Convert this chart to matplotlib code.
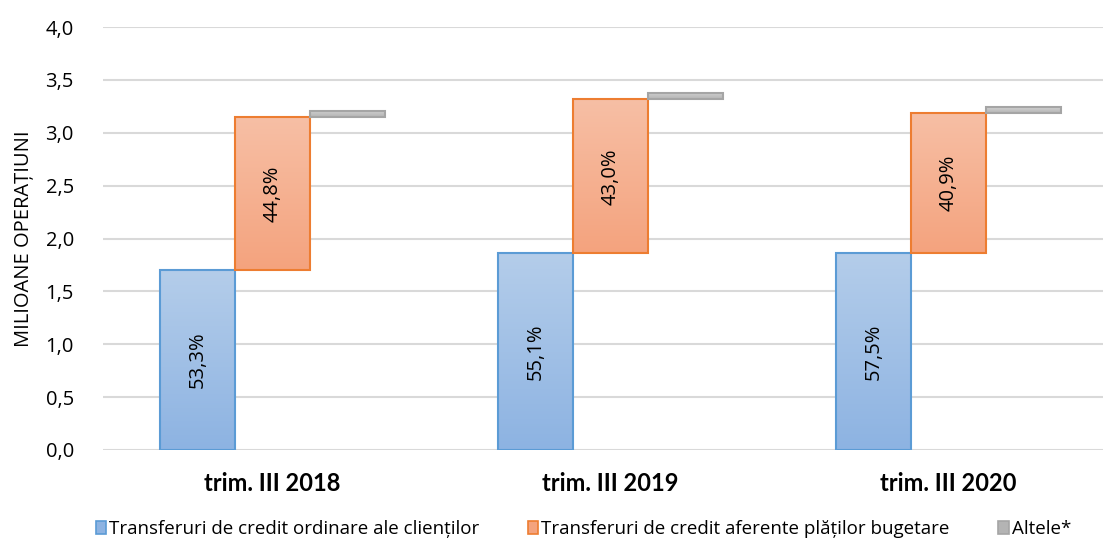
import matplotlib
matplotlib.use("Agg")
import matplotlib.pyplot as plt
import numpy as np
from matplotlib.patches import Rectangle, Patch
from matplotlib.colors import LinearSegmentedColormap

categories = ["trim. III 2018", "trim. III 2019", "trim. III 2020"]
ordinare = [1.70, 1.86, 1.86]
bugetare = [1.445, 1.455, 1.33]
altele = [0.06, 0.062, 0.055]
pct_ordinare = ["53,3%", "55,1%", "57,5%"]
pct_bugetare = ["44,8%", "43,0%", "40,9%"]
legend_labels = ["Transferuri de credit ordinare ale clienților",
                 "Transferuri de credit aferente plăților bugetare",
                 "Altele*"]
yticks = [0, 0.5, 1.0, 1.5, 2.0, 2.5, 3.0, 3.5, 4.0]

plt.rcParams['font.family'] = ['Open Sans', 'DejaVu Sans']

fig = plt.figure(figsize=(11.03, 5.42), dpi=100)
ax = fig.add_axes([103/1103, 92/542, 1000/1103, 423/542])

x = np.arange(len(categories))
w = 75/338

styles = {
    'blue': dict(edge='#5b9bd5', top='#b4cdea', bot='#8db3e2'),
    'orange': dict(edge='#ed7d31', top='#f7bfa5', bot='#f4a37e'),
    'gray': dict(edge='#a5a5a5', top='#d2d2d2', bot='#b4b4b4'),
}

def grad_bar(xc, bottom, height, st):
    rect = Rectangle((xc - w/2, bottom), w, height, facecolor='none',
                     edgecolor=st['edge'], linewidth=1.5, zorder=4)
    ax.add_patch(rect)
    cmap = LinearSegmentedColormap.from_list('g', [st['bot'], st['top']])
    grad = np.linspace(0, 1, 100).reshape(-1, 1)
    im = ax.imshow(grad, cmap=cmap, origin='lower', aspect='auto',
                   extent=(xc - w/2, xc + w/2, bottom, bottom + height), zorder=3)
    clip = Rectangle((xc - w/2, bottom), w, height, transform=ax.transData)
    im.set_clip_path(clip)

for i in range(len(categories)):
    grad_bar(x[i] - w, 0, ordinare[i], styles['blue'])
    grad_bar(x[i], ordinare[i], bugetare[i], styles['orange'])
    grad_bar(x[i] + w, ordinare[i] + bugetare[i], altele[i], styles['gray'])
    ax.text(x[i] - w, ordinare[i]/2, pct_ordinare[i], rotation=90,
            ha='center', va='center', fontsize=14.5, color='black', zorder=5)
    ax.text(x[i], ordinare[i] + bugetare[i]/2, pct_bugetare[i], rotation=90,
            ha='center', va='center', fontsize=14.5, color='black', zorder=5)

ax.set_xlim((103-272.5)/338, (1103-272.5)/338)
ax.set_ylim(0, 4.0)
ax.set_yticks(yticks)
ax.set_yticklabels([f"{v:.1f}".replace('.', ',') for v in yticks], fontsize=14.5)
ax.set_xticks(x)
ax.set_xticklabels(categories, fontsize=17, fontweight='bold', family=['Lato', 'DejaVu Sans'])
ax.tick_params(axis='x', length=0, pad=16)
ax.tick_params(axis='y', length=0, pad=21)
ax.grid(axis='y', color='#d9d9d9', linewidth=1.5, zorder=0)
ax.set_axisbelow(True)
for s in ax.spines.values():
    s.set_visible(False)
ax.set_ylabel("MILIOANE OPERAȚIUNI", fontsize=14.5, labelpad=8)

handles = [Patch(facecolor=styles[k]['bot'], edgecolor=styles[k]['edge'], linewidth=1.2)
           for k in ['blue', 'orange', 'gray']]
fig.legend(handles, legend_labels, loc='center', bbox_to_anchor=(0.529, 1 - 529/542),
           ncol=3, frameon=False, fontsize=13.5, handlelength=0.55, handleheight=0.75,
           handletextpad=0.15, columnspacing=2.6)

fig.savefig("out.png", dpi=100)
